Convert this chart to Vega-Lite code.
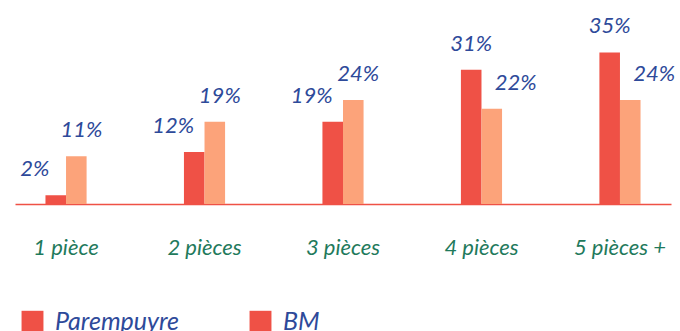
{
  "$schema": "https://vega.github.io/schema/vega-lite/v6.json",
  "width": 656,
  "height": 204,
  "autosize": {"type": "none"},
  "padding": {"left": 15, "top": 0, "right": 9, "bottom": 127},
  "background": "white",
  "config": {"view": {"stroke": null}, "font": "Lato"},
  "data": {"values": [
    {"category": "1 pièce", "series": "Parempuyre", "value": 0.02},
    {"category": "1 pièce", "series": "BM", "value": 0.11},
    {"category": "2 pièces", "series": "Parempuyre", "value": 0.12},
    {"category": "2 pièces", "series": "BM", "value": 0.19},
    {"category": "3 pièces", "series": "Parempuyre", "value": 0.19},
    {"category": "3 pièces", "series": "BM", "value": 0.24},
    {"category": "4 pièces", "series": "Parempuyre", "value": 0.31},
    {"category": "4 pièces", "series": "BM", "value": 0.22},
    {"category": "5 pièces +", "series": "Parempuyre", "value": 0.35},
    {"category": "5 pièces +", "series": "BM", "value": 0.24}
  ]},
  "encoding": {
    "x": {
      "field": "category", "type": "nominal", "sort": null,
      "scale": {"paddingInner": 0.703, "paddingOuter": 0.22},
      "axis": {
        "title": null, "orient": "bottom", "ticks": false,
        "domainColor": "#EF5146", "domainWidth": 1.5, "domainOpacity": 1,
        "labelAngle": 0, "labelPadding": 33, "labelFontSize": 22,
        "labelFontStyle": "italic", "labelColor": "#1F7A5C", "labelFont": "Lato"
      }
    },
    "xOffset": {"field": "series", "type": "nominal", "sort": ["Parempuyre", "BM"], "scale": {"paddingInner": 0}},
    "y": {"field": "value", "type": "quantitative", "scale": {"domain": [0, 0.471], "nice": false}, "axis": null}
  },
  "layer": [
    {
      "mark": {"type": "square", "opacity": 1, "size": 4},
      "encoding": {
        "y": {"datum": 0, "type": "quantitative"},
        "color": {
          "field": "series", "type": "nominal", "sort": ["Parempuyre", "BM"],
          "scale": {"domain": ["Parempuyre", "BM"], "range": ["#EF5146", "#EF5146"]},
          "legend": {
            "title": null, "orient": "none", "legendX": 5, "legendY": 309,
            "direction": "horizontal", "symbolType": "square", "symbolSize": 480,
            "symbolStrokeWidth": 0, "symbolOpacity": 1, "labelFontSize": 25, "labelFontStyle": "italic",
            "labelColor": "#2E4A9A", "labelFont": "Lato", "labelOffset": 10,
            "columnPadding": 68
          }
        }
      }
    },
    {
      "mark": {"type": "bar"},
      "encoding": {
        "fill": {
          "field": "series", "type": "nominal", "sort": ["Parempuyre", "BM"],
          "scale": {"domain": ["Parempuyre", "BM"], "range": ["#EF5146", "#FCA37A"]},
          "legend": null
        }
      }
    },
    {
      "transform": [{"filter": {"and": [{"field": "series", "equal": "Parempuyre"}, {"field": "category", "oneOf": ["1 pièce", "2 pièces", "3 pièces"]}]}}],
      "mark": {"type": "text", "baseline": "bottom", "dy": -14, "dx": -21, "fontSize": 22, "fontStyle": "italic", "color": "#2E4A9A"},
      "encoding": {"text": {"field": "value", "format": ".0%"}}
    },
    {
      "transform": [{"filter": {"and": [{"field": "series", "equal": "Parempuyre"}, {"field": "category", "oneOf": ["4 pièces", "5 pièces +"]}]}}],
      "mark": {"type": "text", "baseline": "bottom", "dy": -14, "dx": 0, "fontSize": 22, "fontStyle": "italic", "color": "#2E4A9A"},
      "encoding": {"text": {"field": "value", "format": ".0%"}}
    },
    {
      "transform": [{"filter": {"and": [{"field": "series", "equal": "BM"}, {"field": "category", "oneOf": ["1 pièce", "2 pièces", "3 pièces"]}]}}],
      "mark": {"type": "text", "baseline": "bottom", "dy": -14, "dx": 5, "fontSize": 22, "fontStyle": "italic", "color": "#2E4A9A"},
      "encoding": {"text": {"field": "value", "format": ".0%"}}
    },
    {
      "transform": [{"filter": {"and": [{"field": "series", "equal": "BM"}, {"field": "category", "oneOf": ["4 pièces", "5 pièces +"]}]}}],
      "mark": {"type": "text", "baseline": "bottom", "dy": -14, "dx": 24, "fontSize": 22, "fontStyle": "italic", "color": "#2E4A9A"},
      "encoding": {"text": {"field": "value", "format": ".0%"}}
    }
  ]
}
